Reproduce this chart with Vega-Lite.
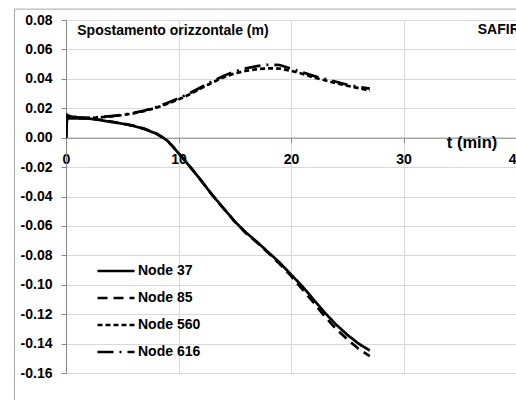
{
  "$schema": "https://vega.github.io/schema/vega-lite/v6.json",
  "autosize": "none",
  "width": 450,
  "height": 353,
  "padding": {"left": 66, "top": 20, "right": 0, "bottom": 27},
  "background": "white",
  "config": {
    "view": {"stroke": null},
    "font": "Liberation Sans",
    "axis": {"labelFont": "Liberation Sans", "labelFontWeight": "bold", "labelFontSize": 14, "labelColor": "black", "gridColor": "#d9d9d9", "gridWidth": 1, "domainColor": "#868686", "tickColor": "#868686", "tickSize": 5, "labelOverlap": false}
  },
  "datasets": {
    "series": [
      {"t": 0, "v": 0.013, "node": "Node 37"}, {"t": 1, "v": 0.0132, "node": "Node 37"}, {"t": 2, "v": 0.013, "node": "Node 37"}, {"t": 3, "v": 0.012, "node": "Node 37"}, {"t": 4, "v": 0.0107, "node": "Node 37"}, {"t": 5, "v": 0.0095, "node": "Node 37"}, {"t": 6, "v": 0.008, "node": "Node 37"}, {"t": 7, "v": 0.0058, "node": "Node 37"}, {"t": 8, "v": 0.0028, "node": "Node 37"}, {"t": 8.5, "v": 0.0007, "node": "Node 37"}, {"t": 9, "v": -0.002, "node": "Node 37"}, {"t": 9.5, "v": -0.006, "node": "Node 37"}, {"t": 10, "v": -0.0105, "node": "Node 37"}, {"t": 10.5, "v": -0.015, "node": "Node 37"}, {"t": 11, "v": -0.0195, "node": "Node 37"}, {"t": 12, "v": -0.029, "node": "Node 37"}, {"t": 13, "v": -0.039, "node": "Node 37"}, {"t": 14, "v": -0.048, "node": "Node 37"}, {"t": 15, "v": -0.057, "node": "Node 37"}, {"t": 16, "v": -0.0645, "node": "Node 37"}, {"t": 17, "v": -0.071, "node": "Node 37"}, {"t": 18, "v": -0.078, "node": "Node 37"}, {"t": 19, "v": -0.085, "node": "Node 37"}, {"t": 20, "v": -0.093, "node": "Node 37"}, {"t": 21, "v": -0.101, "node": "Node 37"}, {"t": 22, "v": -0.11, "node": "Node 37"}, {"t": 23, "v": -0.119, "node": "Node 37"}, {"t": 24, "v": -0.127, "node": "Node 37"}, {"t": 25, "v": -0.134, "node": "Node 37"}, {"t": 26, "v": -0.14, "node": "Node 37"}, {"t": 27, "v": -0.1447, "node": "Node 37"},
      {"t": 0, "v": 0, "node": "Node 85"}, {"t": 0.1, "v": 0.015, "node": "Node 85"}, {"t": 1, "v": 0.0135, "node": "Node 85"}, {"t": 2, "v": 0.013, "node": "Node 85"}, {"t": 3, "v": 0.0122, "node": "Node 85"}, {"t": 4, "v": 0.011, "node": "Node 85"}, {"t": 5, "v": 0.0097, "node": "Node 85"}, {"t": 6, "v": 0.0082, "node": "Node 85"}, {"t": 7, "v": 0.006, "node": "Node 85"}, {"t": 8, "v": 0.003, "node": "Node 85"}, {"t": 9, "v": -0.002, "node": "Node 85"}, {"t": 10, "v": -0.0105, "node": "Node 85"}, {"t": 11, "v": -0.0195, "node": "Node 85"}, {"t": 12, "v": -0.029, "node": "Node 85"}, {"t": 13, "v": -0.039, "node": "Node 85"}, {"t": 14, "v": -0.048, "node": "Node 85"}, {"t": 15, "v": -0.057, "node": "Node 85"}, {"t": 16, "v": -0.065, "node": "Node 85"}, {"t": 17, "v": -0.0715, "node": "Node 85"}, {"t": 18, "v": -0.0785, "node": "Node 85"}, {"t": 19, "v": -0.086, "node": "Node 85"}, {"t": 20, "v": -0.094, "node": "Node 85"}, {"t": 21, "v": -0.103, "node": "Node 85"}, {"t": 22, "v": -0.112, "node": "Node 85"}, {"t": 23, "v": -0.1215, "node": "Node 85"}, {"t": 24, "v": -0.13, "node": "Node 85"}, {"t": 25, "v": -0.137, "node": "Node 85"}, {"t": 26, "v": -0.1435, "node": "Node 85"}, {"t": 27, "v": -0.1485, "node": "Node 85"},
      {"t": 0, "v": 0, "node": "Node 560"}, {"t": 0.1, "v": 0.015, "node": "Node 560"}, {"t": 1, "v": 0.0135, "node": "Node 560"}, {"t": 2, "v": 0.0133, "node": "Node 560"}, {"t": 3, "v": 0.0138, "node": "Node 560"}, {"t": 4, "v": 0.0145, "node": "Node 560"}, {"t": 5, "v": 0.0153, "node": "Node 560"}, {"t": 6, "v": 0.0165, "node": "Node 560"}, {"t": 7, "v": 0.0182, "node": "Node 560"}, {"t": 8, "v": 0.0203, "node": "Node 560"}, {"t": 9, "v": 0.023, "node": "Node 560"}, {"t": 10, "v": 0.026, "node": "Node 560"}, {"t": 11, "v": 0.0295, "node": "Node 560"}, {"t": 12, "v": 0.0335, "node": "Node 560"}, {"t": 13, "v": 0.0375, "node": "Node 560"}, {"t": 14, "v": 0.041, "node": "Node 560"}, {"t": 15, "v": 0.0437, "node": "Node 560"}, {"t": 16, "v": 0.0455, "node": "Node 560"}, {"t": 17, "v": 0.0466, "node": "Node 560"}, {"t": 18, "v": 0.0471, "node": "Node 560"}, {"t": 19, "v": 0.047, "node": "Node 560"}, {"t": 20, "v": 0.0455, "node": "Node 560"}, {"t": 21, "v": 0.0435, "node": "Node 560"}, {"t": 22, "v": 0.041, "node": "Node 560"}, {"t": 23, "v": 0.039, "node": "Node 560"}, {"t": 24, "v": 0.037, "node": "Node 560"}, {"t": 25, "v": 0.0353, "node": "Node 560"}, {"t": 26, "v": 0.0337, "node": "Node 560"}, {"t": 27, "v": 0.032, "node": "Node 560"},
      {"t": 0, "v": 0, "node": "Node 616"}, {"t": 0.1, "v": 0.0155, "node": "Node 616"}, {"t": 1, "v": 0.0138, "node": "Node 616"}, {"t": 2, "v": 0.0135, "node": "Node 616"}, {"t": 3, "v": 0.014, "node": "Node 616"}, {"t": 4, "v": 0.0147, "node": "Node 616"}, {"t": 5, "v": 0.0155, "node": "Node 616"}, {"t": 6, "v": 0.0168, "node": "Node 616"}, {"t": 7, "v": 0.0185, "node": "Node 616"}, {"t": 8, "v": 0.0207, "node": "Node 616"}, {"t": 9, "v": 0.0235, "node": "Node 616"}, {"t": 10, "v": 0.0267, "node": "Node 616"}, {"t": 11, "v": 0.0303, "node": "Node 616"}, {"t": 12, "v": 0.0343, "node": "Node 616"}, {"t": 13, "v": 0.0383, "node": "Node 616"}, {"t": 14, "v": 0.042, "node": "Node 616"}, {"t": 15, "v": 0.045, "node": "Node 616"}, {"t": 16, "v": 0.0472, "node": "Node 616"}, {"t": 17, "v": 0.0487, "node": "Node 616"}, {"t": 18, "v": 0.0496, "node": "Node 616"}, {"t": 19, "v": 0.0494, "node": "Node 616"}, {"t": 20, "v": 0.047, "node": "Node 616"}, {"t": 21, "v": 0.0445, "node": "Node 616"}, {"t": 22, "v": 0.042, "node": "Node 616"}, {"t": 23, "v": 0.04, "node": "Node 616"}, {"t": 24, "v": 0.038, "node": "Node 616"}, {"t": 25, "v": 0.036, "node": "Node 616"}, {"t": 26, "v": 0.0345, "node": "Node 616"}, {"t": 27, "v": 0.0333, "node": "Node 616"}
    ],
    "labels": [
      {"t": 1, "v": 0.0725, "text": "Spostamento orizzontale (m)", "size": 14},
      {"t": 36.6, "v": 0.0735, "text": "SAFIR", "size": 14},
      {"t": 33.85, "v": -0.0035, "text": "t (min)", "size": 16.5}
    ],
    "frame": [{"t": -4.58, "t2": 46, "v": 0.0874, "v2": -0.3}]
  },
  "encoding": {
    "x": {"field": "t", "type": "quantitative", "scale": {"domain": [0, 40], "nice": false},
      "axis": {"title": null, "values": [0, 10, 20, 30, 40], "offset": -235.33, "labelPadding": 10, "grid": true, "labelFlush": false, "labelOverlap": false}},
    "y": {"field": "v", "type": "quantitative", "scale": {"domain": [-0.16, 0.08], "nice": false, "zero": false},
      "axis": {"title": null, "values": [-0.16, -0.14, -0.12, -0.1, -0.08, -0.06, -0.04, -0.02, 0, 0.02, 0.04, 0.06, 0.08], "labelExpr": "replace(format(datum.value, '.2f'), '\u2212', '-')", "labelPadding": 9, "grid": true, "labelOverlap": false, "labelSeparation": 0, "labelBound": false}}
  },
  "layer": [
    {
      "data": {"name": "frame"},
      "mark": {"type": "rect", "fill": null, "stroke": "#a6a6a6", "strokeWidth": 1, "clip": false},
      "encoding": {
        "x2": {"field": "t2"},
        "y2": {"field": "v2"}
      }
    },
    {
      "data": {"name": "series"},
      "mark": {"type": "line", "color": "black", "strokeWidth": 2.7, "clip": true},
      "encoding": {
        "strokeDash": {"field": "node", "type": "nominal",
          "scale": {"domain": ["Node 37", "Node 85", "Node 560", "Node 616"], "range": [[1, 0], [10, 6], [5, 3], [16, 6, 2, 6]]},
          "legend": {"title": null, "orient": "none", "legendX": 30, "legendY": 231, "symbolType": "stroke", "symbolSize": 1369, "symbolStrokeWidth": 2.7, "symbolStrokeColor": "black", "labelFont": "Liberation Sans", "labelFontWeight": "bold", "labelFontSize": 14, "labelColor": "black", "labelOffset": 2, "rowPadding": 0}},
        "detail": {"field": "node"},
        "order": {"field": "t", "type": "quantitative"}
      }
    },
    {
      "data": {"name": "labels"},
      "mark": {"type": "text", "align": "left", "baseline": "middle", "fontWeight": "bold", "font": "Liberation Sans", "color": "black", "clip": false},
      "encoding": {
        "text": {"field": "text"},
        "size": {"field": "size", "type": "quantitative", "scale": null}
      }
    }
  ]
}
